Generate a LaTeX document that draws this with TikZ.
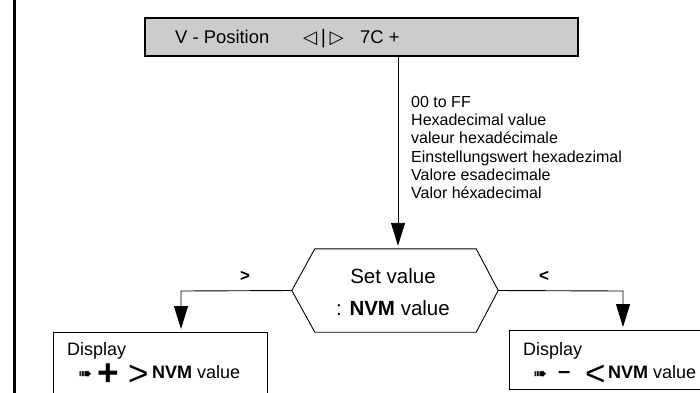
\documentclass[tikz,border=0pt]{standalone}
\usepackage{fontspec}
\setmainfont{Liberation Sans}
\newfontfamily\dejavu{DejaVu Sans}
\usetikzlibrary{arrows.meta,calc}
\newcommand\myfs[2][1]{\fontsize{#2pt}{#2pt}\selectfont}
\begin{document}
\begin{tikzpicture}[x=1pt,y=-1pt,
  conn/.style={line width=0.9pt,-{Triangle[length=23pt,width=14pt]},shorten >=3pt},
  boxline/.style={draw,line width=0.9pt,inner sep=0pt,anchor=north west},
  txt/.style={inner sep=0pt,anchor=base west},
]
\useasboundingbox (0,0) rectangle (700,392);
\clip (0,0) rectangle (700,392);
\fill[white] (0,0) rectangle (700,392);
% left frame line
\draw[line width=3pt] (14,-5) -- (14,400);

% top box
\definecolor{topgray}{HTML}{CCCCCC}
\node[boxline,line width=1.5pt,fill=topgray,minimum width=433,minimum height=38] (top) at (144,17) {};
\node[txt,font=\myfs{18.4}] (vpos) at (175,43) {V - Position};
\node[txt,font=\dejavu\myfs{18.4}] (sym) at (303,43) {◁\,|\,▷};
\node[txt,font=\myfs{18.4}] (val7c) at (360,43) {7C +};

% description
\node[anchor=north west,inner sep=0pt,align=left,font=\fontsize{16pt}{18.3pt}\selectfont] (desc) at (411,96)
  {00 to FF\\Hexadecimal value\\valeur hexadécimale\\Einstellungswert hexadezimal\\Valore esadecimale\\Valor héxadecimal};

% hexagon
\node[minimum width=161,minimum height=83,inner sep=0pt] (hex) at (395.5,290.5) {};
\coordinate (hexL) at ($(hex.west)+(-23,0)$);
\coordinate (hexR) at ($(hex.east)+(22,0)$);
\draw[line width=0.9pt] (hex.north west) -- (hex.north east) -- (hexR) -- (hex.south east)
  -- (hex.south west) -- (hexL) -- cycle;
\node[anchor=base,inner sep=0pt,font=\myfs{20.5}] (setv) at (393,283) {Set value};
\node[anchor=base,inner sep=0pt,font=\myfs{20.5}] (nvmv) at (393,315) {: \textbf{NVM} value};

% display boxes
\node[boxline,minimum width=214,minimum height=80] (lbox) at (53,332) {};
\node[boxline,minimum width=220,minimum height=59] (rbox) at (509,330) {};
\node[txt,font=\myfs{18}] (ldisp) at (67,355) {Display};
\node[txt,font=\myfs{18}] (rdisp) at (523,355) {Display};
\node[txt,font=\myfs{18}] (lline) at (78,378)
  {\makebox[19pt][l]{\raisebox{-1pt}{\dejavu\myfs{17}➠}}\makebox[31pt][l]{\raisebox{-7pt}{\bfseries\myfs{37}+}}\makebox[24pt][l]{\raisebox{-7pt}{\myfs{35}>}}\textbf{NVM} value};
\node[txt,font=\myfs{18}] (rline) at (533,378)
  {\makebox[25pt][l]{\raisebox{-1pt}{\dejavu\myfs{17}➠}}\makebox[27pt][l]{\bfseries\myfs{22}–}\makebox[23pt][l]{\raisebox{-7pt}{\myfs{35}<}}\textbf{NVM} value};

% connectors
\coordinate (c1) at (398,55);
\coordinate (cL) at (181,291);
\coordinate (cR) at (623,291);
\draw[conn] (top.south -| c1) -- (hex.north -| c1);
\draw[conn] (hexL) -- (cL) -- (cL |- lbox.north);
\draw[conn] (hexR) -- (cR) -- (cR |- rbox.north);
\node[font=\bfseries\myfs{17}] (gt) at (245,276) {>};
\node[font=\bfseries\myfs{17}] (lt) at (544,276) {<};
\end{tikzpicture}
\end{document}
